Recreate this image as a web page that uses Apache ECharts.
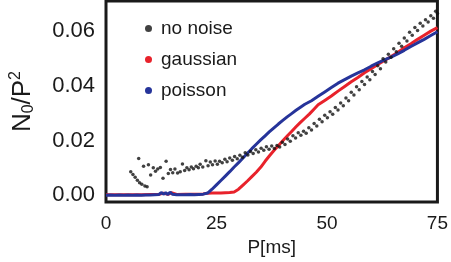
<!DOCTYPE html>
<html>
<head>
<meta charset="utf-8">
<script src="https://cdn.jsdelivr.net/npm/echarts@6/dist/echarts.min.js"></script>
<style>html,body{margin:0;padding:0;background:#fff;}#c{width:451px;height:262px;}</style>
</head>
<body>
<div id="c"></div>
<script>
// ---- data ----
var xTicks = [0, 25, 50, 75];
var yTicks = [0, 0.02, 0.04, 0.06];
var seriesNames = ['no noise', 'gaussian', 'poisson'];

var noNoiseX = [5.6,6.1,6.6,7.1,7.6,8.1,8.8,9.3,7.4,8.5,9.6,10.1,10.7,11.2,11.7,12.3,12.9,13.6,14.1,14.6,15.1,15.6,16.2,16.8,17.3,17.8,18.3,18.8,19.3,19.8,20.4,20.9,21.3,21.9,22.6,23.1,23.6,24.1,24.7,25.2,25.7,26.3,26.9,27.4,28.0,28.6,29.1,29.7,30.3,30.9,31.5,32.1,32.7,33.3,33.9,34.5,35.1,35.7,36.3,36.9,37.5,38.1,38.7,39.3,39.9,40.5,41.1,41.7,42.3,42.9,43.5,44.1,44.7,45.3,45.9,46.5,47.1,47.7,48.3,48.9,49.5,50.1,50.7,51.3,51.9,52.5,53.1,53.7,54.3,54.9,55.5,56.1,56.7,57.3,57.9,58.5,59.1,59.7,60.3,60.9,61.5,62.1,62.7,63.3,63.9,64.5,65.1,65.7,66.3,66.9,67.5,68.1,68.7,69.3,69.9,70.5,71.1,71.7,72.3,72.9,73.5,74.1,74.6,75.0];
var noNoiseY = [0.0086,0.0076,0.0066,0.0055,0.0046,0.0040,0.0034,0.0031,0.0134,0.0106,0.0111,0.0074,0.0100,0.0088,0.0096,0.0101,0.0062,0.0124,0.0079,0.0094,0.0082,0.0096,0.0081,0.0086,0.0114,0.0090,0.0100,0.0093,0.0103,0.0097,0.0106,0.0100,0.0113,0.0103,0.0126,0.0108,0.0121,0.0111,0.0125,0.0113,0.0124,0.0119,0.0131,0.0122,0.0136,0.0128,0.0141,0.0133,0.0146,0.0139,0.0155,0.0147,0.0160,0.0152,0.0166,0.0158,0.0172,0.0164,0.0177,0.0168,0.0180,0.0171,0.0182,0.0176,0.0193,0.0185,0.0205,0.0197,0.0217,0.0209,0.0228,0.0219,0.0234,0.0226,0.0246,0.0238,0.0262,0.0253,0.0277,0.0268,0.0292,0.0283,0.0305,0.0296,0.0320,0.0311,0.0337,0.0327,0.0355,0.0345,0.0376,0.0366,0.0396,0.0385,0.0415,0.0404,0.0432,0.0422,0.0452,0.0441,0.0473,0.0462,0.0498,0.0486,0.0515,0.0504,0.0535,0.0524,0.0555,0.0544,0.0574,0.0563,0.0595,0.0584,0.0612,0.0601,0.0628,0.0618,0.0641,0.0632,0.0655,0.0646,0.0672,0.0663];

var gaussX = [0,2,4,6,8,10,12,13,14,14.8,16,18,20,22,23,24,25,26,27,28,29,30,31,32,33,34,35,36,37,38,39,40,41,42,43,44,45,46,47,48,49.5,51,52.5,54,55.5,57,58.5,60,61.5,63,64.5,66,67.5,69,70.5,72,73.5,75];
var gaussY = [0.0002,0.0002,0.0002,0.0002,0.0002,0.0003,0.0003,0.0008,0.0003,0.0009,0.0003,0.0004,0.0004,0.0005,0.0007,0.0008,0.0008,0.0008,0.0009,0.0010,0.0012,0.0022,0.0037,0.0052,0.0068,0.0084,0.0102,0.0124,0.0144,0.0163,0.0181,0.0199,0.0216,0.0233,0.0250,0.0266,0.0281,0.0296,0.0313,0.0330,0.0346,0.0362,0.0380,0.0397,0.0414,0.0430,0.0447,0.0462,0.0477,0.0492,0.0506,0.0521,0.0538,0.0553,0.0569,0.0584,0.0599,0.0612];

var poissonX = [0,1,2,3,4,5,6,7,8,9,10,11,12,12.5,13,13.5,14,14.5,15,16,17,18,19,20,21,22,23,24,25,26,27,28,29,30,31,32,33,34,35,36,37,38,39,40,41,42,43,44,45,46.5,48,49.5,51,52.5,54,55.5,57,58.5,60,61.5,63,64.5,66,67.5,69,70.5,72,73.5,75];
var poissonY = [0.0000,0.0001,0.0000,0.0001,0.0000,0.0001,0.0000,0.0001,0.0000,0.0001,0.0001,0.0002,0.0003,0.0010,0.0004,0.0009,0.0003,0.0011,0.0004,0.0002,0.0002,0.0002,0.0003,0.0002,0.0003,0.0004,0.0008,0.0022,0.0038,0.0054,0.0070,0.0086,0.0103,0.0119,0.0136,0.0153,0.0170,0.0186,0.0202,0.0217,0.0232,0.0246,0.0260,0.0273,0.0286,0.0298,0.0310,0.0321,0.0332,0.0345,0.0361,0.0377,0.0393,0.0409,0.0422,0.0435,0.0447,0.0458,0.0471,0.0483,0.0494,0.0504,0.0516,0.0529,0.0543,0.0556,0.0569,0.0583,0.0597];

function zip(xs, ys) { return xs.map(function (x, i) { return [x, ys[i]]; }); }

var chart = echarts.init(document.getElementById('c'), null, {renderer: 'canvas'});
var font = 'Arial, "Liberation Sans", Helvetica, sans-serif';
chart.setOption({
  animation: false,
  backgroundColor: '#fff',
  grid: {left: 106, right: 10, top: 1, bottom: 54, show: true, borderColor: '#1a1a1a', borderWidth: 3, backgroundColor: 'transparent'},
  legend: {
    data: seriesNames, orient: 'vertical', left: 140, top: 14, itemGap: 12,
    itemWidth: 7, itemHeight: 7, icon: 'circle',
    textStyle: {fontFamily: font, fontSize: 19, color: '#1a1a1a', padding: [0,0,0,4]}
  },
  xAxis: {
    type: 'value', min: 0, max: 75, interval: 25,
    name: 'P[ms]', nameLocation: 'middle', nameGap: 35,
    nameTextStyle: {fontFamily: font, fontSize: 19, color: '#1a1a1a'},
    axisLine: {show: false}, axisTick: {show: false}, splitLine: {show: false},
    axisLabel: {fontFamily: font, fontSize: 19, color: '#1a1a1a', margin: 12, showMaxLabel: true}
  },
  yAxis: {
    type: 'value', min: -0.0025, max: 0.0709,
    name: '{a|N}{sub|0}{a|/P}{sup|2}', nameLocation: 'middle', nameGap: 68, nameRotate: 90,
    nameTextStyle: {fontFamily: font, color: '#1a1a1a', rich: {
      a: {fontFamily: font, fontSize: 26, color: '#1a1a1a'},
      sub: {fontFamily: font, fontSize: 16, color: '#1a1a1a', padding: [12,0,0,0]},
      sup: {fontFamily: font, fontSize: 16, color: '#1a1a1a', padding: [0,0,14,0]}
    }},
    axisLine: {show: false}, axisTick: {show: false}, splitLine: {show: false},
    axisLabel: {fontFamily: font, fontSize: 22, color: '#1a1a1a', margin: 11,
      customValues: yTicks, formatter: function (v) { return v.toFixed(2); }}
  },
  series: [
    {name: 'gaussian', type: 'line', data: zip(gaussX, gaussY), showSymbol: false, symbol: 'circle',
      lineStyle: {color: '#e8222b', width: 3}, itemStyle: {color: '#e8222b'}, z: 2},
    {name: 'poisson', type: 'line', data: zip(poissonX, poissonY), showSymbol: false, symbol: 'circle',
      lineStyle: {color: '#26349a', width: 3}, itemStyle: {color: '#26349a'}, z: 3},
    {name: 'no noise', type: 'scatter', data: zip(noNoiseX, noNoiseY), symbol: 'circle', symbolSize: 3.5,
      itemStyle: {color: '#111'}, z: 4}
  ]
});
</script>
</body>
</html>
